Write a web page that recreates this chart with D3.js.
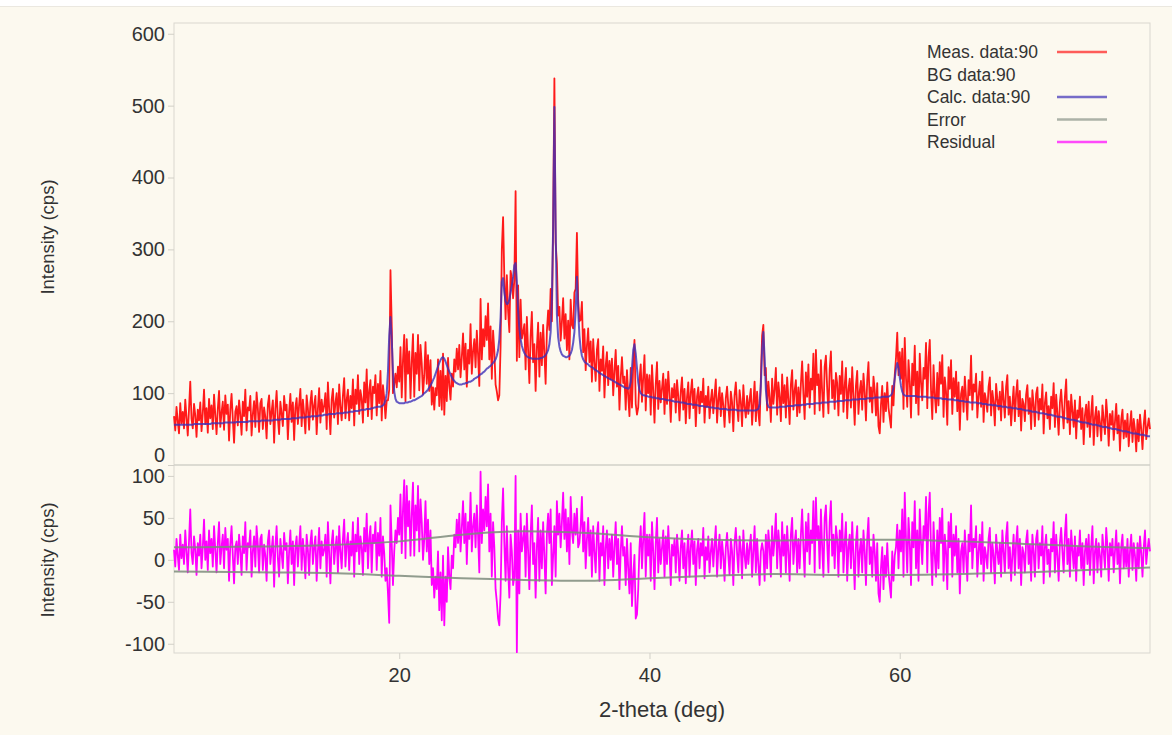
<!DOCTYPE html>
<html lang="en">
<head>
<meta charset="UTF-8">
<title>XRD Rietveld fit</title>
<script src="https://cdn.jsdelivr.net/npm/d3@7"></script>
<style>
    body { margin: 0; background: #ffffff; }
    text { font-family: "Liberation Sans", Arial, sans-serif; fill: #333; }
</style>
</head>
<body>
<div id="chart"></div>
<script>
    // 2-theta grid of the scan
    const xStart = 2, xStep = 0.1;

    // calculated profile (blue), one row per degree: .0 .1 ... .9
    const calcData = [
        56,56,56,56,56,56,56,56,56,56,
        56,56,56,56,56,56,57,57,57,57,
        57,57,57,57,57,57,57,57,57,57,
        58,58,58,58,58,58,58,58,58,58,
        59,59,59,59,59,59,59,59,59,59,
        60,60,60,60,60,60,60,60,60,60,
        61,61,61,61,61,61,61,61,61,61,
        62,62,62,62,62,62,62,62,62,62,
        63,63,63,63,63,63,64,64,64,64,
        64,64,64,64,65,65,65,65,65,65,
        66,66,66,66,66,66,67,67,67,67,
        68,68,68,68,68,68,69,69,69,69,
        70,70,70,70,71,71,71,71,71,71,
        72,72,72,72,72,72,73,73,73,73,
        74,74,74,74,75,75,75,75,76,76,
        77,77,77,77,78,78,78,78,79,79,
        80,80,81,81,81,81,82,83,85,90,
        100,130,180,206,175,130,102,92,88,87,
        86,86,86,86,86,87,87,87,88,88,
        89,90,90,91,92,93,94,95,96,98,
        100,101,103,105,108,111,114,118,122,127,
        132,137,142,146,149,150,148,144,139,134,
        130,126,122,119,117,115,114,113,112,112,
        112,113,113,114,114,115,116,116,117,118,
        120,121,122,123,125,126,127,129,130,132,
        134,135,137,138,140,142,144,147,152,160,
        175,205,255,260,240,228,224,225,230,240,
        250,262,278,281,255,215,190,175,166,160,
        156,153,151,150,149,149,148,148,148,148,
        148,148,148,149,149,150,151,153,156,160,
        168,185,230,330,498,330,210,178,165,158,
        154,152,151,150,150,151,152,155,160,170,
        185,215,262,215,180,162,152,147,144,142,
        141,140,138,137,136,135,133,132,131,130,
        128,127,126,125,124,123,122,121,120,119,
        118,117,116,115,114,113,112,111,110,109,
        108,107,107,106,108,115,135,160,168,155,
        135,115,104,100,98,97,97,96,96,95,
        95,95,94,94,94,93,93,93,92,92,
        92,92,91,91,90,90,90,90,89,89,
        88,88,88,88,87,87,87,87,86,86,
        85,85,85,85,84,84,84,84,83,83,
        82,82,82,82,81,81,81,81,80,80,
        80,80,79,79,79,79,78,78,78,78,
        78,78,77,77,77,77,77,77,77,77,
        76,76,76,76,76,76,76,76,76,76,
        76,76,76,76,76,76,77,78,85,110,
        160,185,150,105,86,81,80,80,80,80,
        80,80,80,80,81,81,81,81,81,81,
        82,82,82,82,82,82,83,83,83,83,
        83,83,84,84,84,84,85,85,85,85,
        85,85,86,86,86,86,86,86,87,87,
        87,87,87,87,88,88,88,88,88,88,
        89,89,89,89,89,89,90,90,90,90,
        90,90,91,91,91,91,91,91,92,92,
        92,92,92,92,93,93,93,93,93,93,
        94,94,94,94,94,94,95,95,95,95,
        95,95,96,97,100,108,120,134,142,135,
        122,110,102,98,97,96,96,96,96,96,
        96,96,96,96,95,95,95,95,95,95,
        95,95,94,94,94,94,94,94,93,93,
        93,93,93,93,92,92,92,92,91,91,
        91,91,91,91,90,90,90,90,89,89,
        89,89,88,88,88,88,87,87,87,87,
        87,87,86,86,86,86,85,85,85,85,
        84,84,84,84,83,83,83,83,82,82,
        82,82,81,81,81,81,80,80,80,80,
        79,79,79,79,78,78,78,78,77,77,
        76,76,76,76,75,75,74,74,74,74,
        73,73,72,72,72,72,71,71,70,70,
        70,70,69,69,68,68,67,67,67,67,
        66,66,65,65,64,64,63,63,63,63,
        62,62,61,61,60,60,59,59,59,59,
        58,58,57,57,56,56,56,56,55,55,
        54,54,53,53,53,53,52,52,51,51,
        50,50,50,50,49,49,48,48,47,47,
        47,47,46,46,45,45,44,44,44,44,
        43,43,42,42,42,42,41,41,40,40,
        40
    ];

    // residual (magenta), same grid
    const residData = [
        12,-8,25,5,-12,30,2,18,-5,35,
        10,-15,22,60,8,-5,28,12,-18,20,
        5,30,-10,15,48,0,22,-12,35,8,
        25,-8,40,12,-15,20,45,-5,15,30,
        -10,38,12,25,-25,18,40,5,-28,15,
        22,-5,30,10,-18,28,8,45,-12,20,
        15,35,-20,10,28,-8,40,18,-15,25,
        30,-12,18,5,-25,22,35,-5,12,28,
        -32,15,40,2,-20,25,8,-10,32,12,
        20,-28,10,35,-5,22,-30,15,28,-8,
        18,40,-12,25,5,-22,30,12,-18,20,
        35,-5,15,28,-25,10,38,-10,22,5,
        12,30,-20,45,8,-28,20,35,-5,15,
        28,-15,40,10,-10,25,48,-8,18,32,
        -12,22,5,45,-20,30,10,50,-5,28,
        15,-18,38,10,55,-10,25,40,-15,30,
        20,45,-12,32,5,50,-20,28,8,-25,
        -10,-40,-75,65,20,-30,10,35,20,50,
        30,78,8,60,95,2,88,40,70,5,
        55,92,5,65,35,88,10,72,45,0,
        25,70,10,48,-5,35,-30,-10,-45,-20,
        -35,10,-60,-15,-72,5,-78,-20,-50,15,
        -20,-35,5,-10,30,15,48,20,55,10,
        38,70,20,55,-5,45,25,80,10,40,
        55,15,65,30,-15,105,20,60,35,75,
        40,90,10,55,-20,45,15,-35,-50,-70,
        -78,-40,45,85,20,-25,40,-10,-45,30,
        10,-30,-20,100,-110,35,-40,55,10,25,
        40,-20,55,10,-35,30,65,-5,20,-45,
        15,50,-25,35,-10,45,5,-40,30,55,
        20,60,-30,5,40,-20,70,30,55,15,
        45,80,25,60,10,50,-5,75,35,20,
        55,30,61,15,20,40,75,10,45,-10,
        25,50,5,35,-20,40,10,-15,30,45,
        -25,20,5,40,-30,15,35,-10,25,0,
        30,-20,15,45,-5,25,-35,10,40,5,
        15,-30,25,-10,-40,20,-55,-20,6,-70,
        -65,-35,15,40,-10,25,56,-20,30,5,
        30,-25,45,10,-35,20,50,-15,25,-5,
        15,35,-20,28,-5,40,10,-30,18,5,
        25,-15,30,8,-25,15,35,-10,20,-28,
        10,30,-20,15,35,-5,22,-30,12,25,
        -10,20,5,38,-22,15,0,28,-15,10,
        25,-8,18,40,-20,12,30,-10,22,5,
        -25,15,32,5,-18,25,10,-30,20,38,
        8,-15,28,12,-22,35,5,-10,20,-5,
        15,30,-20,10,40,-15,25,-5,-30,10,
        20,10,-25,30,-10,35,15,-20,40,5,
        25,55,-10,35,15,-20,45,5,30,-15,
        40,10,-25,30,50,-5,20,35,-15,25,
        -10,30,60,15,-20,45,10,55,-5,35,
        20,70,-15,74,25,40,-10,60,15,-20,
        50,65,20,-15,45,70,5,30,-10,40,
        25,-20,35,10,55,-15,20,45,-25,15,
        30,-10,45,5,-35,20,40,-20,10,25,
        -15,35,10,-30,25,50,-5,15,-20,30,
        10,-25,20,-40,-50,-10,15,-35,5,-20,
        20,-15,-30,-45,10,-25,5,15,42,-10,
        35,10,60,-20,80,25,-15,50,20,-30,
        45,15,70,-10,35,-25,60,20,-5,40,
        25,75,-15,55,80,10,-30,45,5,-20,
        35,-10,50,20,61,-25,30,10,-35,45,
        15,55,-20,30,5,40,-15,25,-40,10,
        20,-15,35,5,-25,30,10,65,-10,25,
        15,40,-20,10,30,-5,45,-25,15,5,
        -10,25,38,-15,20,5,-28,30,10,-5,
        20,-20,35,10,-15,28,45,-10,15,-25,
        5,30,-18,20,40,-10,25,-30,15,8,
        -15,22,35,-5,18,-25,30,10,-20,25,
        35,-10,20,5,40,-28,15,30,-5,12,
        -20,25,10,45,-15,30,5,-25,20,38,
        10,-15,30,54,-5,25,-20,35,12,-10,
        28,-25,15,5,35,-10,20,-30,10,25,
        -5,30,-18,15,40,-28,10,25,-15,20,
        5,-20,30,10,-10,38,15,-25,20,5,
        25,-15,10,35,-5,20,-28,15,30,-10,
        15,-8,25,-20,10,30,-12,20,5,-25,
        20,-10,28,8,-20,15,35,-5,12,25,
        10
    ];

    // error band, read at a few angles
    const errDeg   = [2, 10, 15, 20, 25, 30, 35, 40, 45, 50, 55, 60, 65, 70, 75, 80];
    const errUpper = [15, 16, 18, 22, 30, 34, 32, 27, 24, 23, 24, 24, 22, 19, 16, 14];
    const errLower = [-14, -15, -16, -19, -22, -24, -25, -22, -19, -17, -18, -18, -17, -15, -12, -9];

    const xTicks = [20, 40, 60];
    const topTicks = [0, 100, 200, 300, 400, 500, 600];
    const botTicks = [-100, -50, 0, 50, 100];

    const legendLabels = ["Meas. data:90", "BG data:90", "Calc. data:90", "Error", "Residual"];
    const legendColors = ["#ff1a1a", "none", "#3d30b8", "#8a948a", "#ff00ff"];

    const measData = calcData.map((c, i) => c + residData[i]);
    const deg = i => xStart + i * xStep;

    const width = 1172, height = 735;
    const plotL = 174, plotR = 1150, plotT = 23, plotM = 465, plotB = 653;

    const x = d3.scaleLinear().domain([2, 80]).range([plotL, plotR]);
    const yTop = d3.scaleLinear().domain([0, 615]).range([plotM, plotT]);
    const yBot = d3.scaleLinear().domain([-111, 113]).range([plotB, plotM]);

    const svg = d3.select("#chart")
        .append("svg")
        .attr("width", width)
        .attr("height", height);

    // page background
    svg.append("rect")
        .attr("x", 0).attr("y", 6)
        .attr("width", width).attr("height", height - 6)
        .attr("fill", "#fcf9ef");
    svg.append("line")
        .attr("x1", 0).attr("x2", width)
        .attr("y1", 6.5).attr("y2", 6.5)
        .attr("stroke", "#ebe8e0");

    // frames
    svg.append("rect")
        .attr("x", plotL).attr("y", plotT)
        .attr("width", plotR - plotL).attr("height", plotB - plotT)
        .attr("fill", "none").attr("stroke", "#d9d7d0");
    svg.append("line")
        .attr("x1", plotL).attr("x2", plotR)
        .attr("y1", plotM).attr("y2", plotM)
        .attr("stroke", "#d2d0c8").attr("stroke-width", 1.5);

    // y axes
    const gTop = svg.append("g").attr("transform", `translate(${plotL},0)`)
        .call(d3.axisLeft(yTop).tickValues(topTicks).tickFormat(d => String(d)).tickSize(6).tickPadding(3));
    gTop.selectAll(".tick text").filter(d => d === 0).attr("dy", "-0.2em");

    const gBot = svg.append("g").attr("transform", `translate(${plotL},0)`)
        .call(d3.axisLeft(yBot).tickValues(botTicks).tickFormat(d => String(d)).tickSize(6).tickPadding(3));

    const gx = svg.append("g").attr("transform", `translate(0,${plotB})`)
        .call(d3.axisBottom(x).tickValues(xTicks).tickSize(6).tickPadding(9));

    [gTop, gBot, gx].forEach(g => {
        g.select(".domain").remove();
        g.selectAll(".tick line").attr("stroke", "#d2d0c8");
        g.selectAll(".tick text")
            .attr("font-size", 20)
            .attr("font-family", "Liberation Sans, Arial, sans-serif")
            .attr("fill", "#333");
    });

    // axis titles
    svg.append("text")
        .attr("transform", "translate(54,237) rotate(-90)")
        .attr("text-anchor", "middle")
        .attr("font-size", 18.5)
        .text("Intensity (cps)");
    svg.append("text")
        .attr("transform", "translate(54,560) rotate(-90)")
        .attr("text-anchor", "middle")
        .attr("font-size", 18.5)
        .text("Intensity (cps)");
    svg.append("text")
        .attr("x", (plotL + plotR) / 2)
        .attr("y", 717)
        .attr("text-anchor", "middle")
        .attr("font-size", 22)
        .text("2-theta (deg)");

    // top panel: measured and calculated
    const lineTop = d3.line().x((d, i) => x(deg(i))).y(d => yTop(d));
    svg.append("path")
        .datum(measData)
        .attr("d", lineTop)
        .attr("fill", "none")
        .attr("stroke", "#ff1a1a")
        .attr("stroke-width", 1.8)
        .attr("stroke-linejoin", "round");
    svg.append("path")
        .datum(calcData)
        .attr("d", lineTop)
        .attr("fill", "none")
        .attr("stroke", "#3d30b8")
        .attr("stroke-opacity", 0.8)
        .attr("stroke-width", 2)
        .attr("stroke-linejoin", "round");

    // bottom panel: residual and error
    const lineBot = d3.line().x((d, i) => x(deg(i))).y(d => yBot(d));
    svg.append("path")
        .datum(residData)
        .attr("d", lineBot)
        .attr("fill", "none")
        .attr("stroke", "#ff00ff")
        .attr("stroke-width", 1.8)
        .attr("stroke-linejoin", "round");

    const lineErr = d3.line().x((d, i) => x(errDeg[i])).y(d => yBot(d)).curve(d3.curveMonotoneX);
    [errUpper, errLower].forEach(arr => {
        svg.append("path")
            .datum(arr)
            .attr("d", lineErr)
            .attr("fill", "none")
            .attr("stroke", "#7e8c7c")
            .attr("stroke-opacity", 0.85)
            .attr("stroke-width", 2);
    });

    // legend
    const legend = svg.append("g").attr("transform", "translate(927,52)");
    const rows = legend.selectAll("g")
        .data(legendLabels)
        .join("g")
        .attr("transform", (d, i) => `translate(0,${i * 22.5})`);
    rows.append("text")
        .attr("y", 6)
        .attr("font-size", 17.5)
        .text(d => d);
    rows.append("line")
        .attr("x1", 130).attr("x2", 180)
        .attr("stroke", (d, i) => legendColors[i])
        .attr("stroke-opacity", 0.7)
        .attr("stroke-width", 2.5);
</script>
</body>
</html>
